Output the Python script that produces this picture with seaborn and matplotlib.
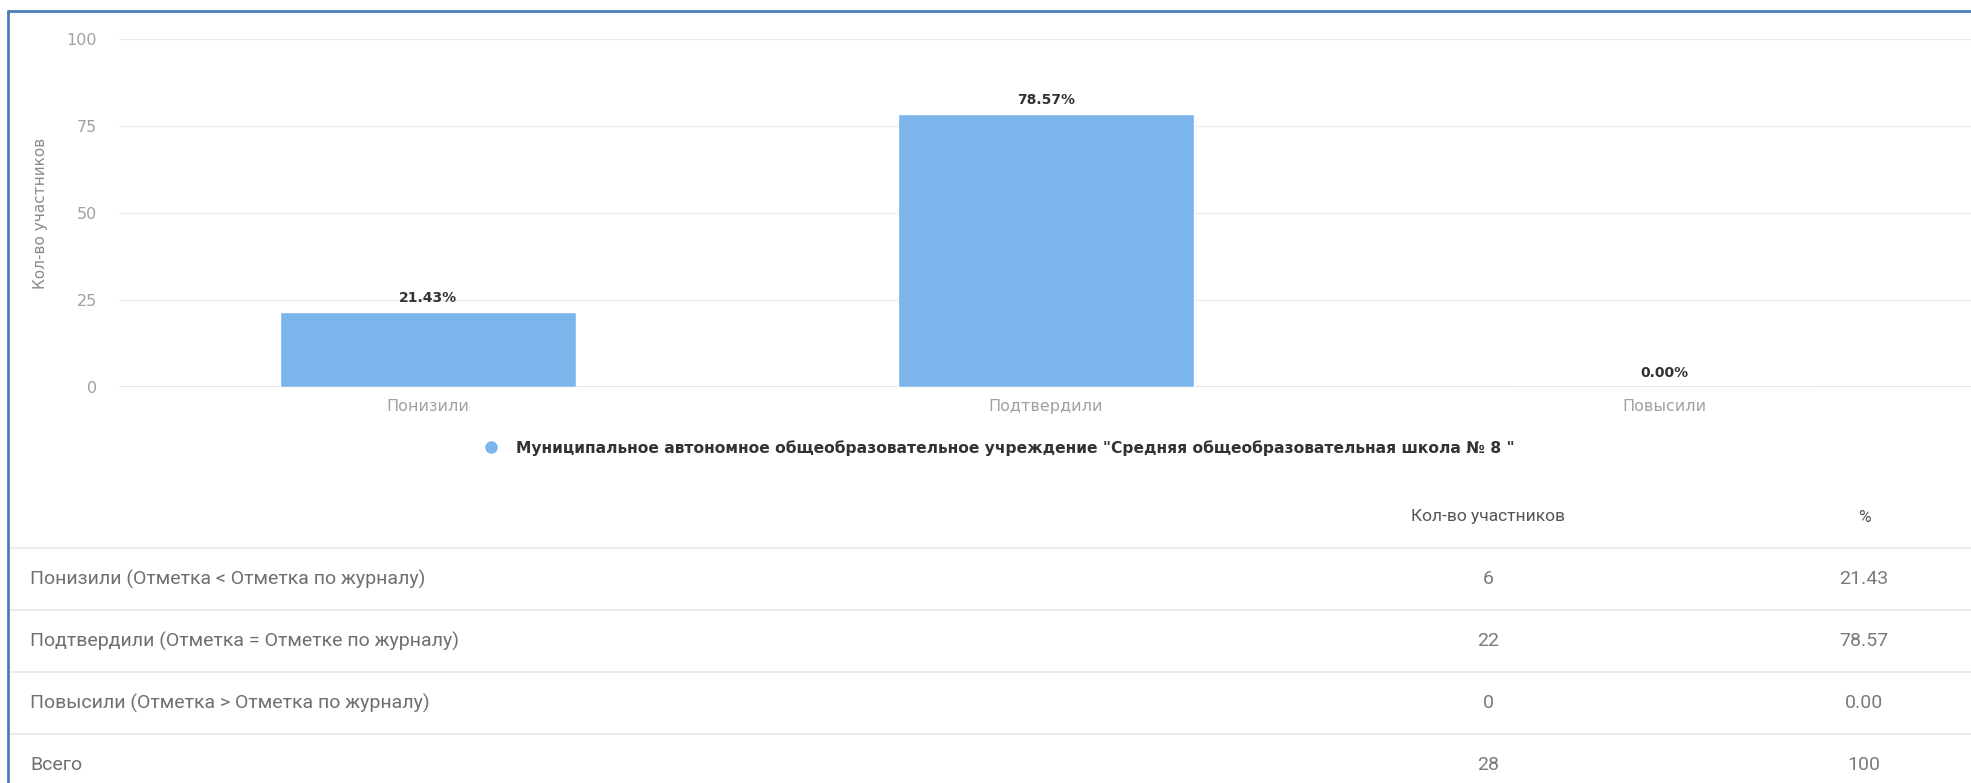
import matplotlib
matplotlib.use("Agg")
import matplotlib.pyplot as plt
import seaborn as sns
import pandas as pd
from matplotlib.lines import Line2D

# chart data
categories = ["Понизили", "Подтвердили", "Повысили"]
percents = [21.43, 78.57, 0.00]
y_ticks = [0, 25, 50, 75, 100]
series_name = 'Муниципальное автономное общеобразовательное учреждение "Средняя общеобразовательная школа № 8 "'

# table data
row_labels = ["Понизили (Отметка < Отметка по журналу)",
              "Подтвердили (Отметка = Отметке по журналу)",
              "Повысили (Отметка > Отметка по журналу)",
              "Всего"]
row_counts = ["6", "22", "0", "28"]
row_pcts = ["21.43", "78.57", "0.00", "100"]
col_headers = ["Кол-во участников", "%"]

W, H = 1971, 783
BAR = "#7cb5ec"

sns.set_theme(style="white")
plt.rcParams['font.family'] = ['DejaVu Sans']

fig = plt.figure(figsize=(W / 100, H / 100), dpi=100)

# --- bar chart, placed by pixel layout
left, right, top, bottom = 119, 1971, 39, 387
ax = fig.add_axes([left / W, 1 - bottom / H, (right - left) / W, (bottom - top) / H])
df = pd.DataFrame({"cat": categories, "pct": percents})
sns.barplot(data=df, x="cat", y="pct", color=BAR, saturation=1, width=0.48, ax=ax)
ax.set_xlim(-0.5, 2.5 - 2 / 618)
ax.set_ylim(0, 100)
ax.set_yticks(y_ticks)
ax.yaxis.grid(True, color="#ececec", lw=1)
ax.set_axisbelow(True)
for s in ax.spines.values():
    s.set_visible(False)
ax.axhline(0, color="#dcdcdc", lw=1.2, zorder=0.5)
ax.tick_params(axis="y", length=0, pad=16, labelsize=11.5, labelcolor="#a0a0a0")
ax.tick_params(axis="x", length=0, pad=9, labelsize=11.5, labelcolor="#a0a0a0")
ax.set_xlabel("")
ax.set_ylabel("Кол-во участников", fontsize=11, color="#8a8a8a")
ax.yaxis.set_label_coords(-0.0385, 0.5)

ax.bar_label(ax.containers[0], labels=[f"{v:.2f}%" for v in percents],
             padding=5, fontsize=10, fontweight="bold", color="#333333")

handle = Line2D([], [], marker="o", linestyle="", markersize=8,
                markerfacecolor=BAR, markeredgecolor=BAR)
fig.legend([handle], [series_name], loc="center", bbox_to_anchor=(995 / W, 1 - 448 / H),
           frameon=False, handletextpad=0.6, prop={"size": 11.2, "weight": "bold"},
           labelcolor="#333333")

# --- table below the chart, rows in index units
row_h = 62
t_top = 486
axt = fig.add_axes([0, 0, 1, 1 - t_top / H])
axt.set_xlim(0, W)
axt.set_ylim(-0.5 + (H - t_top) / row_h, -0.5)
axt.axis("off")

tfont = ['Roboto', 'DejaVu Sans']
axt.text(1488, 0, col_headers[0], ha="center", va="center", fontsize=12.5,
         color="#555555", family=tfont)
axt.text(1864, 0, col_headers[1], ha="center", va="center", fontsize=12.5,
         color="#555555", family=tfont)
for i, (lab, cnt, pct) in enumerate(zip(row_labels, row_counts, row_pcts), start=1):
    axt.axhline(i - 0.5, xmin=9 / W, xmax=1, color="#ebebeb", lw=1.3)
    axt.text(30, i, lab, ha="left", va="center", fontsize=14, color="#6f6f6f", family=tfont)
    axt.text(1488, i, cnt, ha="center", va="center", fontsize=14, color="#7a7a7a", family=tfont)
    axt.text(1864, i, pct, ha="center", va="center", fontsize=14, color="#7a7a7a", family=tfont)

# picture border
bc = "#4a7ebb"
fig.add_artist(Line2D([8 / W, 1], [1 - 11 / H, 1 - 11 / H], transform=fig.transFigure, color=bc, lw=2))
fig.add_artist(Line2D([8 / W, 8 / W], [0, 1 - 11 / H], transform=fig.transFigure, color=bc, lw=2))

fig.savefig("out.png", dpi=100)
